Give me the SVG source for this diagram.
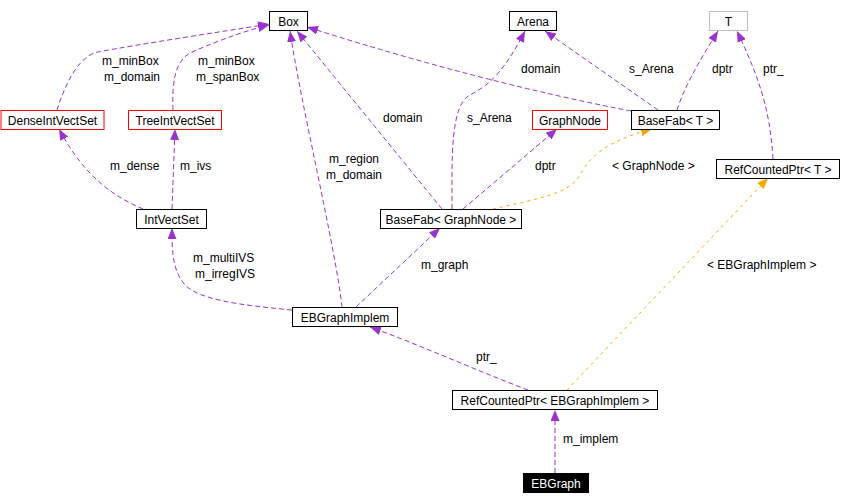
<svg xmlns="http://www.w3.org/2000/svg" width="841" height="504" viewBox="0 0 841 504">
<style>
text{font-family:"Liberation Sans",Arial,sans-serif;font-size:12px;fill:#000}
.n rect{fill:#fff;stroke:#000;stroke-width:1}
.n text{text-anchor:middle}
.red rect{stroke:#ff0000}
.gray rect{stroke:#bfbfbf}
.blk rect{fill:#000}
.blk text{fill:#fff}
.e{fill:none;stroke:#9a32cd;stroke-width:1;stroke-dasharray:5,3}
.o{fill:none;stroke:#ffa500;stroke-width:1;stroke-dasharray:3,4}
</style>
<defs>
<marker id="ap" markerUnits="userSpaceOnUse" markerWidth="12" markerHeight="9" refX="11" refY="4.5" orient="auto"><path d="M0,0 L11,4.5 L0,9 z" fill="#9a32cd"/></marker>
<marker id="ao" markerUnits="userSpaceOnUse" markerWidth="12" markerHeight="9" refX="11" refY="4.5" orient="auto"><path d="M0,0 L11,4.5 L0,9 z" fill="#ffa500"/></marker>
</defs>
<rect width="841" height="504" fill="#fff"/>
<g id="edges">
<path class="e" marker-end="url(#ap)" d="M57,110 C65,85 78,56 98,52 C140,44 220,32 269,24"/>
<path class="e" marker-end="url(#ap)" d="M173,110 C172,85 174,62 190,53 C210,44 240,32 269,25"/>
<path class="e" marker-end="url(#ap)" d="M143,209 C115,197 85,178 59,129"/>
<path class="e" marker-end="url(#ap)" d="M172,209 L175,129"/>
<path class="e" marker-end="url(#ap)" d="M292,310 C240,305 200,300 185,285 C172,270 172,250 172,228"/>
<path class="e" marker-end="url(#ap)" d="M342,307 C336,250 300,100 290,31"/>
<path class="e" marker-end="url(#ap)" d="M442,209 L297,31"/>
<path class="e" marker-end="url(#ap)" d="M452,209 C452,160 450,105 470,95 C490,85 505,70 525,31"/>
<path class="e" marker-end="url(#ap)" d="M463,209 L557,129"/>
<path class="o" marker-end="url(#ao)" d="M493,209 C530,200 570,195 580,175 C590,155 610,140 652,129"/>
<path class="e" marker-end="url(#ap)" d="M631,111 Q480,82 307,27"/>
<path class="e" marker-end="url(#ap)" d="M658,110 L545,31"/>
<path class="e" marker-end="url(#ap)" d="M677,110 C685,85 700,60 718,31"/>
<path class="e" marker-end="url(#ap)" d="M773,159 C770,110 760,80 737,31"/>
<path class="e" marker-end="url(#ap)" d="M356,307 L440,228"/>
<path class="o" marker-end="url(#ao)" d="M567,390 L768,178"/>
<path class="e" marker-end="url(#ap)" d="M528,390 C480,372 420,345 370,327"/>
<path class="e" marker-end="url(#ap)" d="M555,473 L555,410"/>
<text x="102" y="65">m_minBox</text>
<text x="104" y="81">m_domain</text>
<text x="198" y="65">m_minBox</text>
<text x="196" y="81">m_spanBox</text>
<text x="110" y="170">m_dense</text>
<text x="180" y="170">m_ivs</text>
<text x="383" y="122">domain</text>
<text x="467" y="122">s_Arena</text>
<text x="329" y="163">m_region</text>
<text x="326" y="179">m_domain</text>
<text x="535" y="170">dptr</text>
<text x="521" y="73">domain</text>
<text x="629" y="73">s_Arena</text>
<text x="712" y="73">dptr</text>
<text x="763" y="73">ptr_</text>
<text x="612" y="170">&lt; GraphNode &gt;</text>
<text x="193" y="262">m_multiIVS</text>
<text x="195" y="278">m_irregIVS</text>
<text x="421" y="269">m_graph</text>
<text x="707" y="269">&lt; EBGraphImplem &gt;</text>
<text x="476" y="361">ptr_</text>
<text x="563" y="443">m_implem</text>
</g>
<g id="Box" class="n"><rect x="269.5" y="11.5" width="38" height="19"/><text x="288.5" y="25.5">Box</text></g>
<g id="Arena" class="n"><rect x="509.5" y="11.5" width="47" height="19"/><text x="533" y="25.5">Arena</text></g>
<g id="T" class="n gray"><rect x="709.5" y="11.5" width="38" height="19"/><text x="728.5" y="25.5">T</text></g>
<g id="DenseIntVectSet" class="n red"><rect x="1" y="110.5" width="103" height="19"/><text x="52.5" y="124.5">DenseIntVectSet</text></g>
<g id="TreeIntVectSet" class="n red"><rect x="128.5" y="110.5" width="93" height="19"/><text x="175" y="124.5">TreeIntVectSet</text></g>
<g id="GraphNode" class="n red"><rect x="532.5" y="110.5" width="75" height="19"/><text x="570" y="124.5">GraphNode</text></g>
<g id="BaseFabT" class="n"><rect x="631.5" y="110.5" width="88" height="19"/><text x="675.5" y="124.5">BaseFab&lt; T &gt;</text></g>
<g id="RefCountedPtrT" class="n"><rect x="716.5" y="159.5" width="123" height="19"/><text x="778" y="173.5">RefCountedPtr&lt; T &gt;</text></g>
<g id="IntVectSet" class="n"><rect x="136.5" y="209.5" width="70" height="19"/><text x="171.5" y="223.5">IntVectSet</text></g>
<g id="BaseFabGraphNode" class="n"><rect x="380.5" y="209.5" width="141" height="19"/><text x="451" y="223.5">BaseFab&lt; GraphNode &gt;</text></g>
<g id="EBGraphImplem" class="n"><rect x="292.5" y="307.5" width="105" height="19"/><text x="345" y="321.5">EBGraphImplem</text></g>
<g id="RefCountedPtrEBGraphImplem" class="n"><rect x="452.5" y="390.5" width="205" height="19"/><text x="555" y="404.5">RefCountedPtr&lt; EBGraphImplem &gt;</text></g>
<g id="EBGraph" class="n blk"><rect x="523.5" y="473.5" width="65" height="19"/><text x="556" y="487.5">EBGraph</text></g>
</svg>
